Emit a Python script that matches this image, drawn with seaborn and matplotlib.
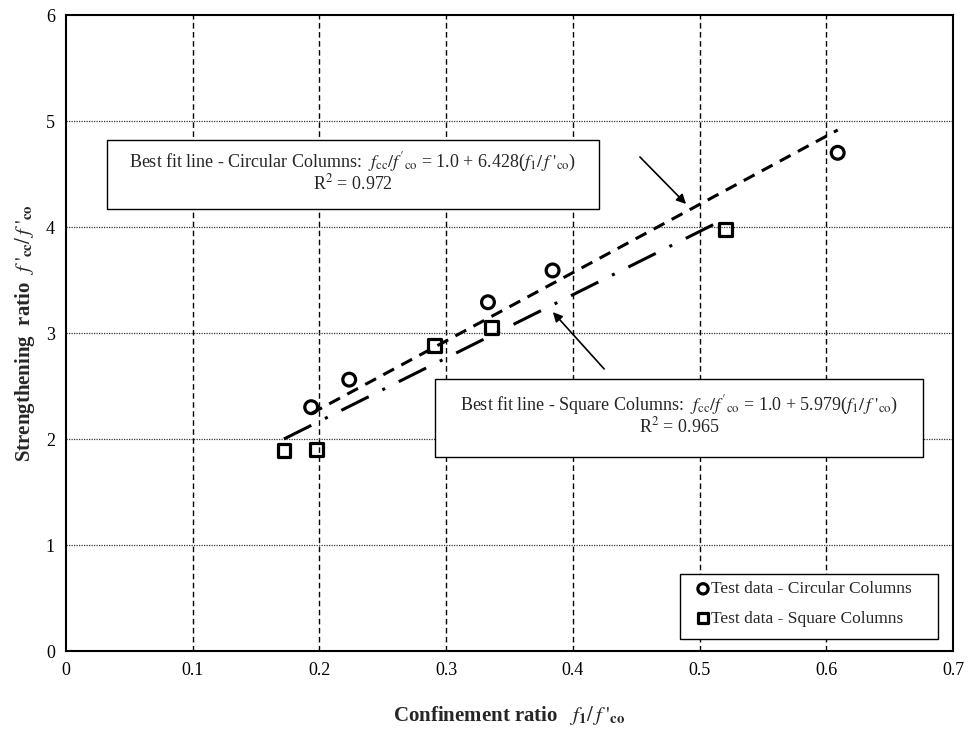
import matplotlib
matplotlib.use("Agg")
import matplotlib.pyplot as plt
import seaborn as sns
import pandas as pd
from matplotlib.patches import Rectangle

# Data
circ_x = [0.1935, 0.2235, 0.333, 0.384, 0.609]
circ_y = [2.30, 2.56, 3.29, 3.59, 4.70]
sq_x = [0.172, 0.198, 0.291, 0.336, 0.5205]
sq_y = [1.89, 1.90, 2.88, 3.05, 3.98]
circ_fit_x = [0.1935, 0.609]
circ_fit_y = [2.24, 4.915]
sq_fit_x = [0.172, 0.5205]
sq_fit_y = [2.00, 4.08]
x_ticks = [0, 0.1, 0.2, 0.3, 0.4, 0.5, 0.6, 0.7]
x_tick_labels = ["0", "0.1", "0.2", "0.3", "0.4", "0.5", "0.6", "0.7"]
y_ticks = [0, 1, 2, 3, 4, 5, 6]

sns.set_theme(style="white")
plt.rcParams['font.family'] = ['Liberation Serif', 'DejaVu Serif']
plt.rcParams['mathtext.fontset'] = 'stix'

fig = plt.figure(figsize=(9.71, 7.34), dpi=100)
ax = fig.add_axes([66/971, 1-651/734, (953-66)/971, (651-15)/734])

df_c = pd.DataFrame({"x": circ_x, "y": circ_y})
df_s = pd.DataFrame({"x": sq_x, "y": sq_y})
df_cf = pd.DataFrame({"x": circ_fit_x, "y": circ_fit_y})
df_sf = pd.DataFrame({"x": sq_fit_x, "y": sq_fit_y})

# grid
for xv in x_ticks[1:-1]:
    ax.axvline(xv, color="black", lw=1.0, ls=(0, (4, 2.5)), zorder=1)
for yv in y_ticks[1:-1]:
    ax.axhline(yv, color="#333333", lw=0.9, ls=(0, (1, 1)), zorder=1)

sns.lineplot(data=df_cf, x="x", y="y", ax=ax, color="black", lw=2.2,
             zorder=2).lines[-1].set_linestyle((0, (4, 2.7)))
sns.lineplot(data=df_sf, x="x", y="y", ax=ax, color="black", lw=2.2,
             zorder=2).lines[-1].set_linestyle((0, (10, 5, 1, 5)))

sns.scatterplot(data=df_c, x="x", y="y", ax=ax, marker="o", s=85,
                facecolor="none", edgecolor="black", linewidth=2.3, zorder=4,
                label="Test data - Circular Columns")
sns.scatterplot(data=df_s, x="x", y="y", ax=ax, marker="s", s=85,
                facecolor="none", edgecolor="black", linewidth=2.3, zorder=4,
                label="Test data - Square Columns")

ax.set_xlim(0, 0.7)
ax.set_ylim(0, 6)
ax.set_xticks(x_ticks)
ax.set_xticklabels(x_tick_labels)
ax.set_yticks(y_ticks)
ax.tick_params(axis="both", length=0, labelsize=13, colors="black", pad=8)
for sp in ax.spines.values():
    sp.set_color("black")
    sp.set_linewidth(1.5)

ax.set_xlabel(r"Confinement ratio   $f_{\mathbf{1}}/\,f\ '_{\mathbf{co}}$",
              fontsize=15, fontweight="bold", labelpad=18)
ax.set_ylabel(r"Strengthening  ratio  $f\ '_{\mathbf{cc}}/\,f\ '_{\mathbf{co}}$",
              fontsize=15, fontweight="bold", labelpad=6)

t1 = (r"Best fit line - Circular Columns:  $f_{\mathrm{cc}}/f'_{\mathrm{co}}$ = 1.0 + 6.428($f_1/\,f\ '_{\mathrm{co}}$)"
      "\n" r"R$^2$ = 0.972")
t2 = (r"Best fit line - Square Columns:  $f_{\mathrm{cc}}/f'_{\mathrm{co}}$ = 1.0 + 5.979($f_1/\,f\ '_{\mathrm{co}}$)"
      "\n" r"R$^2$ = 0.965")


def px2data(px, py):
    inv = ax.transData.inverted()
    return inv.transform(fig.transFigure.transform((px/971, 1-py/734)))


def draw_rect(x0, y0, x1, y1, z=5):
    (dx0, dy0) = px2data(x0, y1)
    (dx1, dy1) = px2data(x1, y0)
    ax.add_patch(Rectangle((dx0, dy0), dx1-dx0, dy1-dy0, fc="white", ec="black",
                           lw=1.0, zorder=z))


def draw_box(x0, y0, x1, y1, text, tx, ty):
    draw_rect(x0, y0, x1, y1)
    ax.text(tx, ty, text, fontsize=13, ha="center", va="center", zorder=6,
            linespacing=1.0, transform=fig.transFigure)


draw_box(107, 140, 599, 209, t1, 353/971, 1-172/734)
draw_box(435, 379, 923, 457, t2, 679/971, 1-415/734)

ax.annotate("", xy=px2data(688, 206), xytext=px2data(638, 155),
            arrowprops=dict(arrowstyle="-|>", color="black", lw=1.2,
                            mutation_scale=14), zorder=6)
ax.annotate("", xy=px2data(551, 310), xytext=px2data(606, 371),
            arrowprops=dict(arrowstyle="-|>", color="black", lw=1.2,
                            mutation_scale=14), zorder=6)

# legend frame (drawn as rectangle) and legend entries
draw_rect(680, 574, 938, 639, z=6)
leg = ax.legend(loc="upper left",
                bbox_to_anchor=((690-66)/887, (651-576)/636),
                fontsize=12.5, frameon=False, handletextpad=0.0,
                handlelength=0.9, labelspacing=0.75, borderpad=0.3,
                markerscale=0.8, borderaxespad=0)
leg.set_zorder(7)

fig.savefig("out.png", dpi=100)
